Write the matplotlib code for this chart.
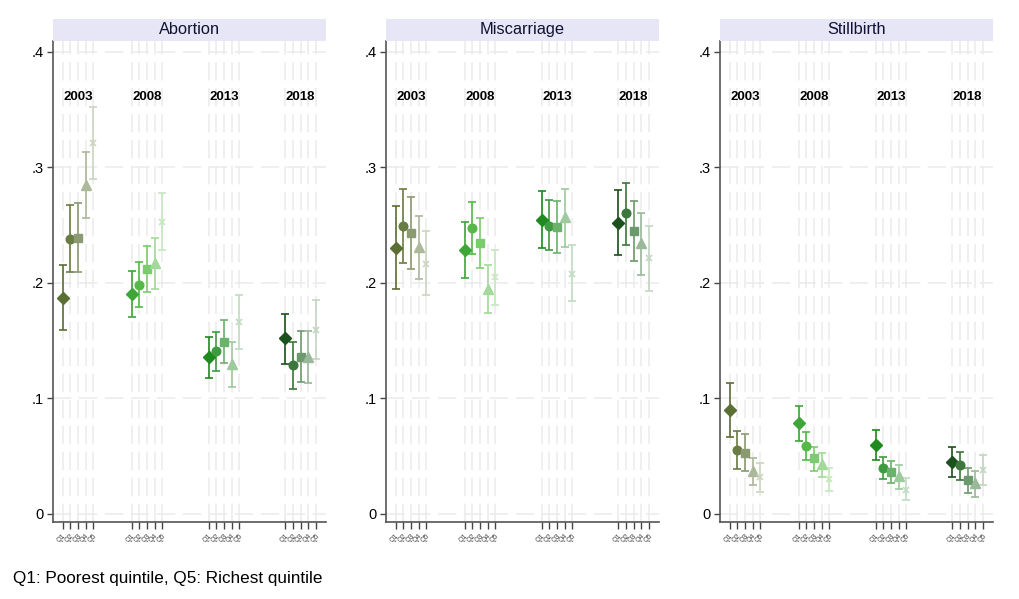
import matplotlib
matplotlib.use("Agg")
import matplotlib.pyplot as plt
from matplotlib.patches import Rectangle

plt.rcParams['font.family'] = ['Liberation Sans', 'DejaVu Sans']

years = ["2003", "2008", "2013", "2018"]
quintiles = ["Q1", "Q2", "Q3", "Q4", "Q5"]
outcomes = ["Abortion", "Miscarriage", "Stillbirth"]

# estimates [year][quintile]
abortion_est = [[0.187, 0.238, 0.239, 0.285, 0.321],
                [0.190, 0.198, 0.212, 0.217, 0.253],
                [0.136, 0.141, 0.149, 0.130, 0.166],
                [0.152, 0.129, 0.136, 0.136, 0.159]]
abortion_lo = [[0.159, 0.209, 0.209, 0.256, 0.290],
               [0.170, 0.179, 0.192, 0.195, 0.228],
               [0.118, 0.124, 0.131, 0.110, 0.143],
               [0.130, 0.108, 0.114, 0.113, 0.134]]
abortion_hi = [[0.215, 0.267, 0.269, 0.313, 0.352],
               [0.210, 0.218, 0.232, 0.239, 0.278],
               [0.153, 0.157, 0.168, 0.149, 0.189],
               [0.173, 0.149, 0.158, 0.158, 0.185]]

miscarriage_est = [[0.230, 0.249, 0.243, 0.231, 0.216],
                   [0.228, 0.247, 0.234, 0.195, 0.205],
                   [0.254, 0.249, 0.248, 0.257, 0.208],
                   [0.252, 0.260, 0.245, 0.234, 0.221]]
miscarriage_lo = [[0.195, 0.217, 0.212, 0.203, 0.189],
                  [0.204, 0.225, 0.213, 0.174, 0.181],
                  [0.230, 0.228, 0.226, 0.231, 0.184],
                  [0.224, 0.233, 0.219, 0.207, 0.193]]
miscarriage_hi = [[0.266, 0.281, 0.274, 0.258, 0.245],
                  [0.253, 0.270, 0.256, 0.215, 0.228],
                  [0.279, 0.272, 0.271, 0.281, 0.233],
                  [0.280, 0.286, 0.271, 0.260, 0.249]]

stillbirth_est = [[0.090, 0.055, 0.053, 0.037, 0.032],
                  [0.079, 0.059, 0.048, 0.043, 0.030],
                  [0.060, 0.040, 0.036, 0.033, 0.021],
                  [0.045, 0.042, 0.029, 0.027, 0.038]]
stillbirth_lo = [[0.067, 0.039, 0.037, 0.025, 0.019],
                 [0.063, 0.047, 0.037, 0.032, 0.020],
                 [0.047, 0.030, 0.027, 0.022, 0.012],
                 [0.032, 0.029, 0.018, 0.015, 0.025]]
stillbirth_hi = [[0.113, 0.072, 0.069, 0.048, 0.044],
                 [0.093, 0.071, 0.058, 0.053, 0.040],
                 [0.073, 0.049, 0.046, 0.042, 0.031],
                 [0.058, 0.054, 0.040, 0.037, 0.051]]

panels = [(abortion_est, abortion_lo, abortion_hi),
          (miscarriage_est, miscarriage_lo, miscarriage_hi),
          (stillbirth_est, stillbirth_lo, stillbirth_hi)]

yticks = [0, 0.1, 0.2, 0.3, 0.4]
ytick_labels = ["0", ".1", ".2", ".3", ".4"]
footnote = "Q1: Poorest quintile, Q5: Richest quintile"

# styling
group_starts = [1, 10, 20, 30]
markers = ['D', 'o', 's', '^', 'x']
msizes = [6.5, 6.2, 6.0, 6.5, 4.2]
colors = [["#5b6e33", "#6a7c45", "#8b9a70", "#abb899", "#cbd5bf"],
          ["#3ea638", "#55b848", "#7dcb70", "#a3d99a", "#c5e8bf"],
          ["#1f8a1f", "#3f9b3f", "#6bb26b", "#9dcb9d", "#c2dcc2"],
          ["#1c501c", "#3c783c", "#6d9a6d", "#9ab89a", "#c3d5c3"]]

fig = plt.figure(figsize=(10.2, 5.99), dpi=100)
lefts = [53, 386, 720]
ax_w = 273 / 1020
ax_b = 1 - 522.3 / 599
ax_h = (522.3 - 40.7) / 599
strip_h = 21.7 / 599

xpos_all = [g + q for g in group_starts for q in range(5)]

for pi, (est, lo, hi) in enumerate(panels):
    ax = fig.add_axes([lefts[pi] / 1020, ax_b, ax_w, ax_h])
    ax.set_xlim(-0.26, 35.3)
    ax.set_ylim(-0.0072, 0.4094)
    # grid
    for yv in yticks:
        ax.axhline(yv, color="#ebebeb", lw=1.1, dashes=(12, 5), zorder=0)
    for xv in xpos_all:
        ax.axvline(xv, color="#ebebeb", lw=1.1, dashes=(12, 5), zorder=0)
    for gi, g in enumerate(group_starts):
        for q in range(5):
            x = g + q
            c = colors[gi][q]
            e = est[gi][q]
            ax.errorbar([x], [e], yerr=[[e - lo[gi][q]], [hi[gi][q] - e]],
                        fmt='none', ecolor=c, elinewidth=1.2, capsize=3.0,
                        capthick=1.2, zorder=2)
            if markers[q] == 'x':
                ax.plot([x], [e], marker='x', ms=msizes[q], mew=1.2,
                        color=c, ls='none', zorder=3)
            else:
                ax.plot([x], [e], marker=markers[q], ms=msizes[q],
                        mfc=c, mec=c, ls='none', zorder=3)
        ax.text(g + 2, 0.3607, years[gi], ha='center', va='center',
                fontsize=9.5, fontweight='bold', color='black')
    ax.set_xticks(xpos_all)
    ax.set_xticklabels(quintiles * 4, rotation=45, fontsize=5,
                       ha='right', va='top', rotation_mode='anchor',
                       color='#444444')
    ax.set_yticks(yticks)
    ax.set_yticklabels(ytick_labels, fontsize=10.5)
    ax.tick_params(axis='x', length=5, width=1, color='#444444', pad=2)
    ax.tick_params(axis='y', length=4, width=1, color='#444444', pad=3)
    for s in ['top', 'right']:
        ax.spines[s].set_visible(False)
    for s in ['left', 'bottom']:
        ax.spines[s].set_color('#555555')
        ax.spines[s].set_linewidth(1.2)
    # strip title
    fig.patches.append(Rectangle((lefts[pi] / 1020, 1 - 40.7 / 599), ax_w,
                                 strip_h, transform=fig.transFigure,
                                 facecolor="#e6e6f6", edgecolor='none'))
    fig.text(lefts[pi] / 1020 + ax_w / 2, 1 - 40.7 / 599 + strip_h / 2,
             outcomes[pi], ha='center', va='center', fontsize=11.8,
             color='#111133')

fig.text(13 / 1020, 1 - 579 / 599, footnote, ha='left', va='center',
         fontsize=12.3, color='black')

fig.savefig("out.png", dpi=100)
